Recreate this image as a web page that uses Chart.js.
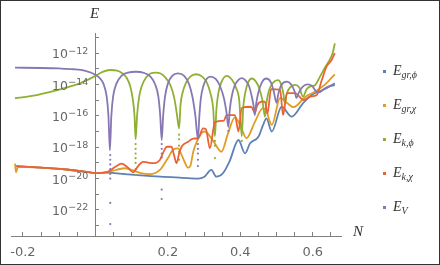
<!DOCTYPE html>
<html>
<head>
<meta charset="utf-8">
<script src="https://cdn.jsdelivr.net/npm/chart.js@4"></script>
<style>
  body { margin: 0; background: #fff; }
  #wrap { position: relative; width: 440px; height: 265px; overflow: hidden; }
  #chart { position: absolute; left: 0; top: 0; }
  #frame { position: absolute; left: 0; top: 0; width: 440px; height: 265px; box-sizing: border-box; border: 1px solid #333; pointer-events: none; }
  .lbl { position: absolute; font-family: "Liberation Serif", "DejaVu Serif", serif; font-style: italic; color: #333; white-space: nowrap; }
  .leg { font-size: 14px; line-height: 14px; left: 393px; }
  .leg sub { font-size: 10px; vertical-align: -3px; line-height: 0; }
  .dot { position: absolute; width: 3px; height: 3px; left: 383px; }
</style>
</head>
<body>
<div id="wrap">
  <canvas id="chart" width="440" height="265"></canvas>
  <div class="lbl" style="left:90px; top:5px; font-size:15px;">E</div>
  <div class="lbl" style="left:353px; top:223px; font-size:15px;">N</div>
  <div id="legend"></div>
  <div id="frame"></div>
</div>
<script>
// axes
const nTicks = [-0.2, -0.15, -0.1, -0.05, 0, 0.05, 0.1, 0.15, 0.2, 0.25, 0.3, 0.35, 0.4, 0.45, 0.5, 0.55, 0.6, 0.65];
const nLabeled = [-0.2, 0.2, 0.4, 0.6];
const eTicks = [-23, -22, -21, -20, -19, -18, -17, -16, -15, -14, -13, -12, -11];
const eLabeled = [-22, -20, -18, -16, -14, -12];

// series (N, log10 E)
const seriesNames = ['gr,ϕ', 'gr,χ', 'k,ϕ', 'k,χ', 'V'];
const seriesColors = ['#5e81b5', '#e19c24', '#8fb032', '#eb6235', '#8778b3'];

const nGrPhi = [-0.222, -0.15, -0.08, -0.03, 0, 0.026, 0.1, 0.18, 0.24, 0.284, 0.30, 0.32, 0.334, 0.352, 0.37, 0.395, 0.413, 0.427, 0.45, 0.463, 0.472, 0.487, 0.514, 0.542, 0.573, 0.597, 0.628, 0.661];
const logGrPhi = [-19.2, -19.3, -19.42, -19.55, -19.65, -19.62, -19.75, -19.88, -19.95, -20.0, -19.9, -19.45, -19.88, -19.66, -18.92, -17.54, -18.39, -17.75, -17.33, -16.58, -16.16, -17.0, -15.42, -16.05, -15.2, -14.67, -14.35, -13.93];

const nGrChi = [-0.222, -0.219, -0.214, -0.15, -0.08, -0.03, 0, 0.04, 0.081, 0.10, 0.125, 0.15, 0.178, 0.2, 0.215, 0.228, 0.24, 0.256, 0.262, 0.27, 0.28, 0.295, 0.302, 0.325, 0.348, 0.365, 0.385, 0.40, 0.417, 0.44, 0.462, 0.47, 0.487, 0.51, 0.53, 0.547, 0.58, 0.606, 0.633, 0.661];
const logGrChi = [-19.05, -19.6, -19.25, -19.3, -19.42, -19.55, -19.65, -19.55, -19.34, -19.45, -19.65, -19.72, -19.45, -18.7, -18.15, -18.07, -18.6, -19.3, -19.2, -18.3, -17.65, -17.05, -17.0, -17.6, -18.29, -17.2, -16.1, -16.6, -17.43, -16.4, -15.52, -15.6, -16.58, -14.85, -15.2, -15.45, -14.78, -14.46, -14.03, -13.35];

const nKPhi = [-0.222, -0.18, -0.13, -0.08, -0.04, 0, 0.02, 0.04, 0.06, 0.075, 0.087, 0.096, 0.103, 0.108, 0.111, 0.115, 0.12, 0.128, 0.14, 0.152, 0.166, 0.18, 0.193, 0.208, 0.218, 0.225, 0.231, 0.235, 0.241, 0.25, 0.262, 0.278, 0.295, 0.308, 0.318, 0.325, 0.330, 0.334, 0.339, 0.347, 0.362, 0.377, 0.388, 0.397, 0.404, 0.408, 0.413, 0.421, 0.432, 0.444, 0.453, 0.461, 0.468, 0.472, 0.479, 0.49, 0.504, 0.513, 0.519, 0.523, 0.528, 0.537, 0.551, 0.563, 0.573, 0.583, 0.592, 0.606, 0.62, 0.633, 0.645, 0.655, 0.661];
const logKPhi = [-14.88, -14.75, -14.5, -14.2, -13.9, -13.45, -13.2, -13.08, -13.12, -13.3, -13.6, -14.1, -14.9, -16.0, -17.5, -16.0, -14.9, -14.1, -13.55, -13.3, -13.25, -13.3, -13.55, -14.1, -14.9, -15.9, -16.8, -15.3, -14.5, -13.9, -13.5, -13.35, -13.5, -13.9, -14.6, -15.5, -17.3, -15.6, -14.6, -13.9, -13.45, -13.7, -14.2, -15.0, -17.3, -15.5, -14.6, -13.9, -13.62, -13.85, -14.3, -15.0, -16.05, -15.2, -14.4, -13.9, -13.72, -14.0, -14.6, -15.18, -14.6, -14.2, -14.03, -14.2, -14.78, -14.3, -14.14, -14.05, -13.5, -12.95, -12.5, -12.0, -11.38];

const nKChi = [-0.2175, -0.15, -0.08, -0.03, 0, 0.034, 0.055, 0.072, 0.09, 0.104, 0.118, 0.131, 0.145, 0.159, 0.178, 0.19, 0.197, 0.21, 0.217, 0.224, 0.231, 0.238, 0.256, 0.27, 0.284, 0.297, 0.305, 0.316, 0.33, 0.355, 0.362, 0.385, 0.395, 0.404, 0.43, 0.44, 0.447, 0.46, 0.468, 0.475, 0.485, 0.51, 0.518, 0.529, 0.551, 0.575, 0.593, 0.611, 0.625, 0.638, 0.652, 0.661];
const logKChi = [-19.2, -19.3, -19.42, -19.55, -19.65, -19.57, -19.25, -19.05, -19.3, -19.6, -19.2, -18.93, -18.98, -19.02, -18.81, -18.2, -17.97, -17.97, -18.5, -19.02, -18.4, -17.97, -17.65, -17.45, -17.43, -16.8, -16.85, -18.07, -16.4, -16.3, -15.95, -15.95, -17.0, -15.5, -15.42, -15.8, -15.31, -15.1, -15.1, -15.85, -14.3, -14.35, -15.95, -14.55, -14.55, -14.99, -14.78, -14.67, -13.72, -12.87, -12.44, -12.0];

const nV = [-0.222, -0.15, -0.10, -0.06, -0.03, 0, 0.012, 0.022, 0.031, 0.036, 0.040, 0.044, 0.049, 0.058, 0.072, 0.09, 0.112, 0.135, 0.152, 0.165, 0.174, 0.179, 0.183, 0.187, 0.192, 0.2, 0.212, 0.228, 0.245, 0.258, 0.268, 0.276, 0.283, 0.287, 0.291, 0.298, 0.307, 0.318, 0.332, 0.344, 0.355, 0.362, 0.367, 0.371, 0.376, 0.384, 0.393, 0.404, 0.415, 0.424, 0.432, 0.437, 0.440, 0.444, 0.450, 0.460, 0.472, 0.484, 0.492, 0.500, 0.505, 0.513, 0.528, 0.542, 0.550, 0.555, 0.562, 0.572, 0.585, 0.598, 0.610, 0.618, 0.630, 0.645, 0.661];
const logV = [-12.93, -12.95, -12.98, -13.03, -13.12, -13.38, -13.6, -13.95, -14.75, -16.0, -18.2, -16.0, -14.75, -13.95, -13.45, -13.25, -13.19, -13.27, -13.5, -14.0, -14.8, -16.0, -17.55, -16.0, -14.8, -13.95, -13.45, -13.3, -13.45, -13.95, -14.8, -16.0, -17.5, -16.0, -14.9, -14.1, -13.65, -13.5, -13.65, -14.1, -14.9, -15.8, -16.7, -15.6, -14.8, -14.1, -13.75, -13.6, -13.75, -14.1, -14.8, -15.4, -15.95, -15.2, -14.5, -13.85, -13.62, -13.85, -14.4, -15.18, -14.6, -14.05, -13.82, -14.05, -14.45, -14.86, -14.5, -14.15, -14.0, -14.1, -14.45, -14.5, -14.3, -14.12, -14.05];

// sparse points below the deep minima
const dotKPhiN = [0.111, 0.111, 0.111, 0.111, 0.111, 0.111, 0.111, 0.231, 0.231, 0.231, 0.231, 0.231, 0.330, 0.330, 0.330, 0.404];
const dotKPhiLog = [-17.8, -18.1, -18.4, -18.7, -19.0, -19.4, -19.77, -17.2, -17.5, -17.9, -18.3, -18.8, -17.6, -17.9, -18.69, -17.6];
const dotVN = [0.041, 0.041, 0.041, 0.041, 0.041, 0.041, 0.041, 0.041, 0.183, 0.183, 0.183, 0.183, 0.183, 0.183, 0.283, 0.283, 0.283, 0.283, 0.283, 0.367];
const dotVLog = [-18.5, -18.8, -19.1, -19.4, -19.7, -20.0, -21.55, -22.9, -17.8, -18.1, -18.4, -18.65, -20.7, -21.3, -17.8, -18.1, -18.4, -18.8, -19.2, -16.95];

const near = (list, v) => list.some(l => Math.abs(l - v) < 1e-9);
const toPoints = (ns, logs) => ns.map((n, i) => ({ x: n, y: Math.pow(10, logs[i]) }));

const curves = [[nGrPhi, logGrPhi], [nGrChi, logGrChi], [nKPhi, logKPhi], [nKChi, logKChi], [nV, logV]];
const datasets = curves.map(([ns, logs], i) => ({
    label: seriesNames[i],
    data: toPoints(ns, logs),
    showLine: true,
    borderColor: seriesColors[i],
    borderWidth: 1.8,
    pointRadius: 0,
    cubicInterpolationMode: 'monotone',
    order: 4 - i
}));
datasets.push({ label: 'k,ϕ min', data: toPoints(dotKPhiN, dotKPhiLog), showLine: false, pointRadius: 1.1, borderWidth: 0, backgroundColor: seriesColors[2], order: 2 });
datasets.push({ label: 'V min', data: toPoints(dotVN, dotVLog), showLine: false, pointRadius: 1.1, borderWidth: 0, backgroundColor: seriesColors[4], order: 0 });

const axisGray = '#808080';
const tickFont = { family: 'DejaVu Sans', size: 13 };

// 10^n labels on the y axis, base and exponent in two sizes
const powerLabels = {
    id: 'powerLabels',
    afterDraw(chart) {
        const { ctx, scales: { x, y } } = chart;
        const right = x.getPixelForValue(0) - 7;
        ctx.save();
        ctx.fillStyle = '#666';
        ctx.textAlign = 'right';
        ctx.textBaseline = 'alphabetic';
        eLabeled.forEach(e => {
            const py = y.getPixelForValue(Math.pow(10, e));
            const exp = '−' + Math.abs(e);
            ctx.font = '9.5px "DejaVu Sans"';
            const w = ctx.measureText(exp).width;
            ctx.fillText(exp, right, py + 0.5);
            ctx.font = '12.5px "DejaVu Sans"';
            ctx.fillText('10', right - w - 0.5, py + 5.2);
        });
        ctx.restore();
    }
};

new Chart(document.getElementById('chart'), {
    type: 'scatter',
    data: { datasets },
    plugins: [powerLabels],
    options: {
        responsive: false,
        animation: false,
        layout: { padding: { left: 11, right: 99, top: 33, bottom: 0 } },
        plugins: { legend: { display: false }, tooltip: { enabled: false } },
        scales: {
            x: {
                type: 'linear', min: -0.233, max: 0.678, bounds: 'data',
                afterBuildTicks: s => { s.ticks = nTicks.map(v => ({ value: v })); },
                afterFit: s => { s.height = 29; s.paddingLeft = 0; s.paddingRight = 0; },
                grid: { drawOnChartArea: false, tickLength: -4, color: axisGray },
                border: { color: axisGray },
                ticks: {
                    padding: 13, color: '#666', font: tickFont, maxRotation: 0, autoSkip: false,
                    callback: v => near(nLabeled, v) ? (v < 0 ? '-' : '') + Math.abs(v).toFixed(1) : ''
                }
            },
            y: {
                type: 'logarithmic', position: { x: 0 }, bounds: 'data',
                min: Math.pow(10, -23.66), max: Math.pow(10, -10.72),
                afterBuildTicks: s => { s.ticks = eTicks.map(e => ({ value: Math.pow(10, e) })); },
                afterFit: s => { s.paddingTop = 0; s.paddingBottom = 0; },
                grid: { drawOnChartArea: false, tickLength: -4, color: axisGray },
                border: { color: axisGray },
                ticks: { padding: 11, font: tickFont, autoSkip: false, callback: () => '' }
            }
        }
    }
});

// legend: dot + E with subscript
const legend = document.getElementById('legend');
seriesNames.forEach((name, i) => {
    const dot = document.createElement('div');
    dot.className = 'dot';
    dot.style.top = (69.5 + 34 * i) + 'px';
    dot.style.background = seriesColors[i];
    legend.appendChild(dot);

    const txt = document.createElement('div');
    txt.className = 'lbl leg';
    txt.style.top = (64 + 34 * i) + 'px';
    txt.innerHTML = 'E<sub>' + name + '</sub>';
    legend.appendChild(txt);
});
</script>
</body>
</html>
